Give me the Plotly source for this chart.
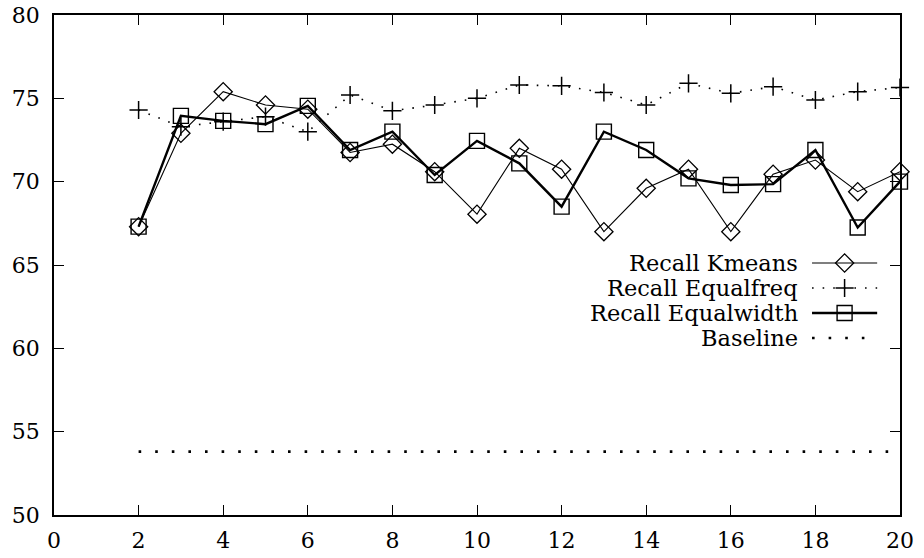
import plotly.graph_objects as go

# Number of bins used for discretisation
bins = list(range(2, 21))

recall_kmeans = [67.3, 72.9, 75.4, 74.6, 74.35, 71.75, 72.25, 70.6, 68.05, 72.0,
                 70.75, 67.0, 69.6, 70.75, 67.0, 70.45, 71.3, 69.4, 70.6]
recall_equalfreq = [74.3, 73.3, 73.6, 73.9, 73.0, 75.2, 74.25, 74.6, 75.0, 75.8,
                    75.75, 75.35, 74.6, 75.9, 75.3, 75.7, 74.9, 75.4, 75.65]
recall_equalwidth = [67.3, 73.95, 73.65, 73.45, 74.55, 71.9, 73.0, 70.4, 72.45, 71.1,
                     68.5, 73.0, 71.9, 70.2, 69.8, 69.85, 71.9, 67.25, 70.0]
baseline = [53.8] * len(bins)

x_ticks = list(range(0, 21, 2))
y_ticks = list(range(50, 81, 5))

FONT = "DejaVu Serif"
INK = "black"

series = [
    dict(name="Recall Kmeans", y=recall_kmeans, mode="lines+markers",
         line=dict(color=INK, width=1.1),
         marker=dict(symbol="diamond-open", size=14, color=INK, line=dict(width=1.3))),
    dict(name="Recall Equalfreq", y=recall_equalfreq, mode="lines+markers",
         line=dict(color=INK, width=1.6, dash="1.6px,9px"),
         marker=dict(symbol="cross-thin-open", size=13, color=INK, line=dict(width=1.5, color=INK))),
    dict(name="Recall Equalwidth", y=recall_equalwidth, mode="lines+markers",
         line=dict(color=INK, width=2.4),
         marker=dict(symbol="square-open", size=15, color=INK, line=dict(width=1.4))),
    dict(name="Baseline", y=baseline, mode="lines",
         line=dict(color=INK, width=2.6, dash="2.6px,14px"),
         marker=dict()),
]

fig = go.Figure()
for s in series:
    fig.add_trace(go.Scatter(x=bins, y=s["y"], mode=s["mode"], line=s["line"],
                             marker=s["marker"], showlegend=False, cliponaxis=False))

# Key in the upper right: right-aligned labels with line samples after them
key_text_right = 0.882
key_sample = (0.896, 0.973)
key_rows = [0.504, 0.454, 0.404, 0.354]
for s, ry in zip(series, key_rows):
    fig.add_annotation(text=s["name"], x=key_text_right, y=ry, xref="paper", yref="paper",
                       xanchor="right", yanchor="middle", showarrow=False,
                       font=dict(family=FONT, size=22.5, color=INK))
    fig.add_trace(go.Scatter(x=list(key_sample), y=[ry, ry], mode="lines", line=s["line"],
                             xaxis="x2", yaxis="y2", showlegend=False, hoverinfo="skip"))
    if s["mode"] != "lines":
        fig.add_trace(go.Scatter(x=[sum(key_sample) / 2], y=[ry], mode="markers",
                                 marker=s["marker"], xaxis="x2", yaxis="y2",
                                 showlegend=False, hoverinfo="skip"))

axis_common = dict(showgrid=False, zeroline=False, showline=True, linecolor=INK,
                   linewidth=1.5, mirror="allticks", ticks="inside", ticklen=10,
                   tickwidth=1.2, tickcolor=INK, automargin=False,
                   tickfont=dict(family=FONT, size=22, color=INK))

fig.update_layout(
    width=924, height=558,
    margin=dict(l=54, r=24, t=15, b=43),
    paper_bgcolor="white", plot_bgcolor="white",
    font=dict(family=FONT, color=INK),
    xaxis=dict(range=[0, 20], tickvals=x_ticks, ticklabelstandoff=5, **axis_common),
    yaxis=dict(range=[50, 80], tickvals=y_ticks, ticklabelstandoff=8, **axis_common),
    xaxis2=dict(range=[0, 1], overlaying="x", visible=False, domain=[0, 1]),
    yaxis2=dict(range=[0, 1], overlaying="y", visible=False, domain=[0, 1]),
)

fig.write_html("out.html")
